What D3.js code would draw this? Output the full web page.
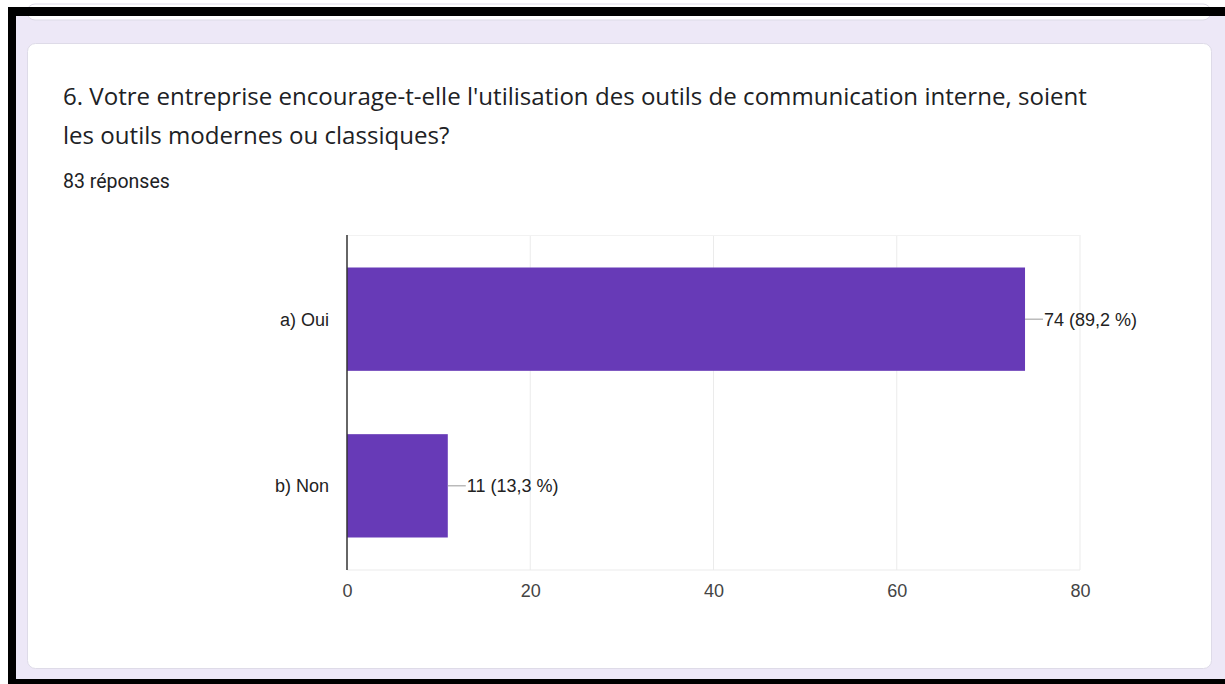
<!DOCTYPE html>
<html lang="fr">
<head>
<meta charset="utf-8">
<script src="https://cdn.jsdelivr.net/npm/d3@7"></script>
<style>
  html, body { margin: 0; padding: 0; background: #ffffff; }
  svg { display: block; }
</style>
</head>
<body>
<svg id="chart" width="1225" height="684"></svg>
<script>
// Survey question and answer counts
const questionLines = [
  "6. Votre entreprise encourage-t-elle l'utilisation des outils de communication interne, soient",
  "les outils modernes ou classiques?"
];
const responseCount = "83 réponses";
const categories = ["a) Oui", "b) Non"];
const counts = [74, 11];
const percentLabels = ["89,2 %", "13,3 %"];
const xTicks = [0, 20, 40, 60, 80];

const svg = d3.select("#chart");
const W = 1225, H = 684;
const chartFont = "Arial, 'Liberation Sans', sans-serif";

// Page frame: outer black border and lavender page background
svg.append("rect").attr("x", 0).attr("y", 0).attr("width", W).attr("height", H).attr("fill", "#ffffff");
svg.append("rect").attr("x", 8).attr("y", 7).attr("width", W - 8).attr("height", H - 7).attr("fill", "#000000");
svg.append("rect").attr("x", 16).attr("y", 16).attr("width", W - 16).attr("height", 663).attr("fill", "#ede8f7");

// Bottom edge of the previous card
svg.append("rect").attr("x", 27).attr("y", 4).attr("width", 1184).attr("height", 16)
  .attr("rx", 8).attr("fill", "#ffffff").attr("stroke", "#dedbe8").attr("stroke-width", 1);
svg.append("rect").attr("x", 16).attr("y", 7).attr("width", W - 16).attr("height", 9).attr("fill", "#000000");

// Question card
svg.append("rect").attr("x", 27.5).attr("y", 43.5).attr("width", 1184).attr("height", 625)
  .attr("rx", 8).attr("fill", "#ffffff").attr("stroke", "#dedbe8").attr("stroke-width", 1);

// Title
const title = svg.append("g");
questionLines.forEach((line, i) => {
  title.append("text")
    .attr("x", 63).attr("y", 105 + i * 39)
    .attr("font-family", "'Open Sans', sans-serif")
    .attr("font-size", 21)
    .attr("fill", "#202124")
    .text(line);
});
// fit first line width
const first = title.select("text").node();
const targetW = 1024;
const w0 = first.getComputedTextLength();
const fs = 21 * targetW / w0;
title.selectAll("text").attr("font-size", fs);

svg.append("text")
  .attr("x", 63).attr("y", 188)
  .attr("font-family", "Roboto, sans-serif")
  .attr("font-size", 19.5)
  .attr("fill", "#202124")
  .text(responseCount);

// Bar chart
const plot = { left: 347, right: 1080, top: 235, bottom: 570 };
const x = d3.scaleLinear().domain([0, 80]).range([plot.left, plot.right]);
const y = d3.scaleBand().domain(categories).range([plot.top, plot.bottom]).paddingInner(0.38).paddingOuter(0.195);

const g = svg.append("g");

// gridlines
g.selectAll(".grid").data(xTicks.slice(1)).join("line")
  .attr("x1", d => x(d)).attr("x2", d => x(d))
  .attr("y1", plot.top).attr("y2", plot.bottom)
  .attr("stroke", "#ebebeb").attr("stroke-width", 1);
g.append("line").attr("x1", plot.left).attr("x2", plot.right)
  .attr("y1", plot.top + 0.5).attr("y2", plot.top + 0.5).attr("stroke", "#f2f2f2");
g.append("line").attr("x1", plot.left).attr("x2", plot.right)
  .attr("y1", plot.bottom).attr("y2", plot.bottom).attr("stroke", "#ebebeb");

// bars
g.selectAll(".bar").data(counts).join("rect")
  .attr("x", x(0))
  .attr("y", (d, i) => y(categories[i]))
  .attr("width", d => x(d) - x(0))
  .attr("height", y.bandwidth())
  .attr("fill", "#673ab7");

// value labels with leader lines
g.selectAll(".leader").data(counts).join("line")
  .attr("x1", d => x(d)).attr("x2", d => x(d) + 18)
  .attr("y1", (d, i) => y(categories[i]) + y.bandwidth() / 2)
  .attr("y2", (d, i) => y(categories[i]) + y.bandwidth() / 2)
  .attr("stroke", "#999999").attr("stroke-width", 1);
g.selectAll(".vlabel").data(counts).join("text")
  .attr("x", d => x(d) + 19)
  .attr("y", (d, i) => y(categories[i]) + y.bandwidth() / 2)
  .attr("dy", "0.36em")
  .attr("font-family", chartFont)
  .attr("font-size", 18)
  .attr("fill", "#222222")
  .text((d, i) => `${d} (${percentLabels[i]})`);

// category labels
g.selectAll(".clabel").data(categories).join("text")
  .attr("x", 329)
  .attr("y", d => y(d) + y.bandwidth() / 2)
  .attr("dy", "0.36em")
  .attr("text-anchor", "end")
  .attr("font-family", chartFont)
  .attr("font-size", 18)
  .attr("fill", "#222222")
  .text(d => d);

// x axis tick labels
const xAxis = d3.axisBottom(x).tickValues(xTicks).tickSize(0).tickPadding(14);
const ax = svg.append("g").attr("transform", `translate(0,${plot.bottom})`).call(xAxis);
ax.select(".domain").remove();
ax.selectAll("text")
  .attr("font-family", chartFont)
  .attr("font-size", 18)
  .attr("fill", "#444444");

// baseline at zero
svg.append("line").attr("x1", x(0)).attr("x2", x(0))
  .attr("y1", plot.top).attr("y2", plot.bottom)
  .attr("stroke", "#333333").attr("stroke-width", 1.5);
</script>
</body>
</html>
